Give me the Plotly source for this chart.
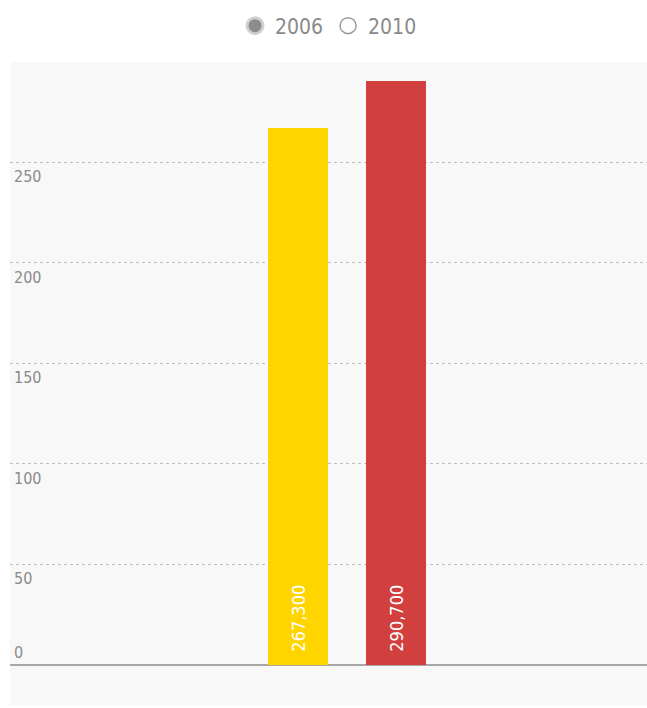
"""Bar chart: 2006 vs 2010 totals (thousands), radio-style legend on top."""

import plotly.graph_objects as go

years = ["2006", "2010"]
values = [267.3, 290.7]
value_labels = ["267,300", "290,700"]
bar_colors = ["#FFD500", "#D13F3F"]
y_ticks = [0, 50, 100, 150, 200, 250]

FONT = "DejaVu Sans Condensed, Liberation Sans Narrow, Roboto, sans-serif"

fig = go.Figure()

fig.add_trace(
    go.Bar(
        x=years,
        y=values,
        width=0.612,
        marker=dict(color=bar_colors, line=dict(width=0)),
        # leading no-break spaces lift the label off the baseline
        text=["\u00a0\u00a0" + t for t in value_labels],
        textposition="inside",
        insidetextanchor="start",
        textangle=-90,
        textfont=dict(color="white", size=18, family=FONT),
        showlegend=False,
    )
)

# Radio-button style legend entries.
fig.add_trace(
    go.Scatter(
        x=[None], y=[None], mode="markers", name="2006",
        marker=dict(symbol="circle", size=18, color="#8c8c8c",
                    line=dict(color="#d0d0d0", width=3)),
    )
)
fig.add_trace(
    go.Scatter(
        x=[None], y=[None], mode="markers", name="2010",
        marker=dict(symbol="circle", size=18, color="white",
                    line=dict(color="#9a9a9a", width=1.5)),
    )
)

# Tick labels sit just inside the plot, under each grid line (0 sits above).
for v in y_ticks:
    fig.add_annotation(
        x=0.003, xref="paper", xanchor="left",
        y=v, yref="y",
        yanchor="bottom" if v == 0 else "top",
        yshift=1 if v == 0 else -3,
        text=str(v), showarrow=False,
        font=dict(color="#8a8a8a", size=16, family=FONT),
    )

fig.update_layout(
    width=647,
    height=708,
    margin=dict(l=10, r=0, t=62, b=3),
    paper_bgcolor="white",
    plot_bgcolor="#f8f8f8",
    bargap=0,
    legend=dict(
        orientation="h",
        x=0.5, xanchor="center",
        y=1.056, yanchor="middle",
        font=dict(color="#8a8a8a", size=21, family=FONT),
        itemwidth=30,
        bgcolor="rgba(0,0,0,0)",
    ),
    xaxis=dict(
        type="category",
        range=[-2.94, 3.56],
        showticklabels=False,
        showgrid=False,
        zeroline=False,
    ),
    yaxis=dict(
        range=[-20, 300],
        tickvals=y_ticks,
        showticklabels=False,
        showgrid=True,
        gridcolor="#bdbdbd",
        griddash="dot",
        gridwidth=1,
        zeroline=True,
        zerolinecolor="#a8a8a8",
        zerolinewidth=2,
    ),
)

fig.write_html(
    "out.html",
    config={"displayModeBar": False},
    post_script="document.body.style.margin='0';document.body.style.overflow='hidden';",
)
